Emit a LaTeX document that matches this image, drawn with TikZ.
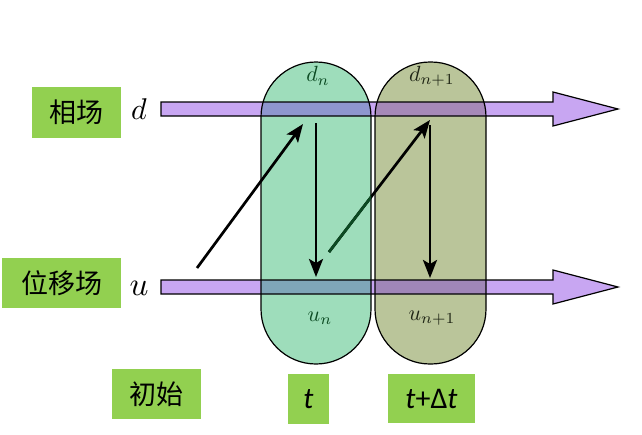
\documentclass[tikz,border=0pt]{standalone}
\usepackage{fontspec}
\newfontfamily\cjk{Noto Sans CJK SC}
\newfontfamily\cali{Carlito}
\usetikzlibrary{arrows.meta}
\definecolor{lab}{HTML}{92D050}
\definecolor{capA}{HTML}{9EDDBB}
\definecolor{capB}{HTML}{BAC59A}
\definecolor{barc}{HTML}{C8A6F2}
\definecolor{ovTA}{HTML}{8E96CE}
\definecolor{ovTB}{HTML}{A689B8}
\definecolor{ovBA}{HTML}{7FA6B8}
\definecolor{ovBB}{HTML}{A086B8}
\definecolor{dkgreen}{HTML}{0B4A22}
\definecolor{dkolive}{HTML}{1E2414}
\tikzset{
  labbox/.style={fill=lab, inner sep=0pt, font=\cjk\fontsize{27}{30}\selectfont},
  capsule/.style={draw=black, line width=1.2pt, rounded corners=55pt},
  bar/.style={draw=black, line width=1.2pt},
  flow/.style={line width=2.7pt, -{Stealth[length=18pt,width=14pt,inset=4pt]}},
}
\begin{document}
\begin{tikzpicture}[x=1pt,y=-1pt]
\useasboundingbox (0,0) rectangle (642,434);
% capsule fills
\fill[capA, rounded corners=55pt] (261,62) rectangle (371,364);
\fill[capB, rounded corners=55pt] (375,62) rectangle (486,364);
% bar fills
\foreach \c in {109,287}{
  \fill[barc] (161,\c-7) -- (553,\c-7) -- (553,\c-17) -- (618,\c) -- (553,\c+17) -- (553,\c+7) -- (161,\c+7) -- cycle;
}
\begin{scope}
  \clip[rounded corners=55pt] (261,62) rectangle (371,364);
  \fill[ovTA] (161,102) rectangle (380,116);
  \fill[ovBA] (161,280) rectangle (380,294);
\end{scope}
\begin{scope}
  \clip[rounded corners=55pt] (375,62) rectangle (486,364);
  \fill[ovTB] (370,102) rectangle (490,116);
  \fill[ovBB] (370,280) rectangle (490,294);
\end{scope}
% bar outlines
\foreach \c in {109,287}{
  \draw[bar] (161,\c-7) -- (553,\c-7) -- (553,\c-17) -- (618,\c) -- (553,\c+17) -- (553,\c+7) -- (161,\c+7) -- cycle;
}
% capsule outlines
\draw[capsule] (261,62) rectangle (371,364);
\draw[capsule] (375,62) rectangle (486,364);
% capsule labels
\node[text=dkgreen] (dn) at (318,76) {\scalebox{2.2}{$d_n$}};
\node[text=dkolive] (dn1) at (432,76) {\scalebox{2.2}{$d_{n+1}$}};
\node[text=dkgreen] (un) at (320,318) {\scalebox{2.2}{$u_n$}};
\node[text=dkolive] (un1) at (432,318) {\scalebox{2.2}{$u_{n+1}$}};
% arrow end points
\coordinate (s0) at (197,268);
\coordinate (dA) at (303,124);
\coordinate (dAt) at (316,123);
\coordinate (uA) at (316,277);
\coordinate (uAs) at (329,252);
\coordinate (dB) at (430,120);
\coordinate (dBt) at (430,125);
\coordinate (uB) at (430,278);
\draw[flow] (s0) -- (dA);
\draw[flow] (dAt) -- (uA);
\draw[flow] (uAs) -- (dB);
\begin{scope}
  \clip[rounded corners=55pt] (261,62) rectangle (371,364);
  \draw[line width=2.7pt, dkgreen] (uAs) -- (dB);
\end{scope}
\draw[flow] (dBt) -- (uB);
% left labels
\node[labbox, minimum width=89pt, minimum height=51pt] (phase) at (76.5,112.5) {相场};
\node[labbox, minimum width=119pt, minimum height=50pt] (disp) at (61.5,283) {位移场};
\node[labbox, minimum width=89pt, minimum height=50pt] (init) at (156.5,394) {初始};
\node[fill=lab, inner sep=0pt, minimum width=41pt, minimum height=50pt, font=\cali\fontsize{30}{34}\selectfont] (tn) at (308.5,399) {\textit{t}};
\node[fill=lab, inner sep=0pt, minimum width=87pt, minimum height=49pt, font=\cali\fontsize{30}{34}\selectfont] (tn1) at (431.5,398.5) {\textit{t}+Δ\textit{t}};
\node (dlab) at (139,109) {\scalebox{3.0}{$d$}};
\node (ulab) at (139,288) {\scalebox{3.3}{$u$}};
\end{tikzpicture}
\end{document}
